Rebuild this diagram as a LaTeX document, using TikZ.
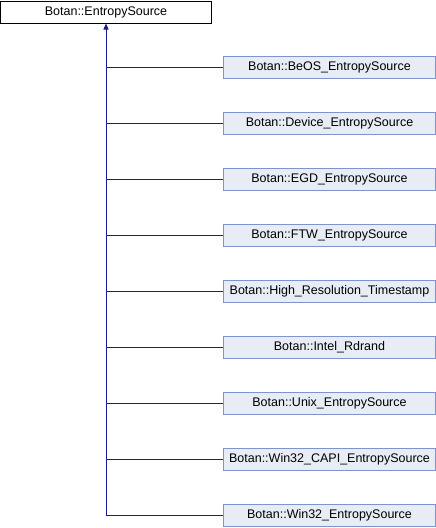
\documentclass[tikz,border=0pt]{standalone}
\usepackage{fontspec}
\setmainfont{Liberation Sans}
\usetikzlibrary{arrows.meta}
\definecolor{edgec}{RGB}{25,25,150}
\definecolor{boxfill}{RGB}{232,236,244}
\definecolor{boxdraw}{RGB}{125,148,204}
\begin{document}
\begin{tikzpicture}[x=1pt,y=-1pt,
  base/.style={draw=black,fill=white,line width=1pt,minimum width=211pt,minimum height=22pt,inner sep=0pt,font=\fontsize{12.5}{14}\selectfont},
  child/.style={draw=boxdraw,fill=boxfill,line width=1pt,minimum width=212pt,minimum height=22pt,inner sep=0pt,font=\fontsize{12.5}{14}\selectfont},
  edge/.style={draw=edgec,line width=1pt}]
\useasboundingbox (0,0) rectangle (436,528);
\node[base] (root) at (106,12) {Botan::EntropySource};
\coordinate (trunk) at (106,515.5);
\foreach \n/\t [count=\i from 0] in {beos/Botan::BeOS\_EntropySource,
  dev/Botan::Device\_EntropySource,
  egd/Botan::EGD\_EntropySource,
  ftw/Botan::FTW\_EntropySource,
  hrt/Botan::High\_Resolution\_Timestamp,
  rdr/Botan::Intel\_Rdrand,
  unix/Botan::Unix\_EntropySource,
  capi/Botan::Win32\_CAPI\_EntropySource,
  w32/Botan::Win32\_EntropySource}{
  \node[child] (\n) at (329.5,67.5+56*\i) {\t};
  \coordinate (j\n) at (106,67.5+56*\i);
  \draw[edge] (j\n) -- (\n.west);
}
\draw[edge,-{Triangle[length=6pt,width=5pt]}] (jw32) -- (root.south);
\end{tikzpicture}
\end{document}
